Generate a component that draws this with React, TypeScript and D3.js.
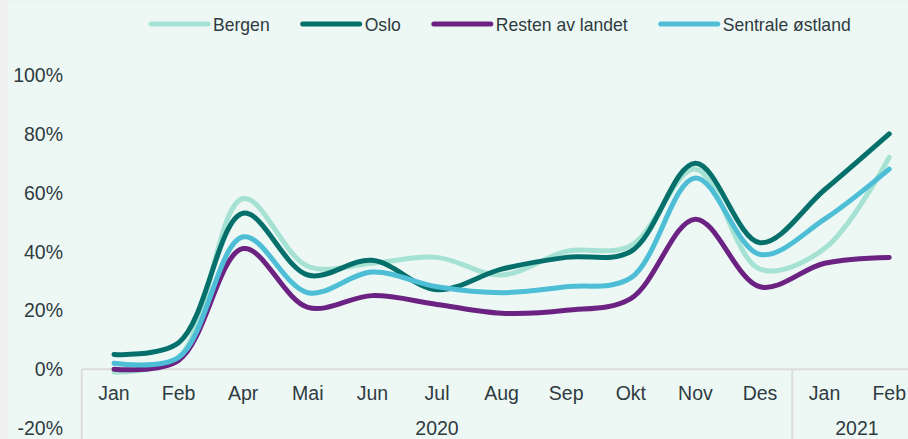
import * as d3 from 'd3';
import { useRef, useEffect } from 'react';

const months = ['Jan', 'Feb', 'Apr', 'Mai', 'Jun', 'Jul', 'Aug', 'Sep', 'Okt', 'Nov', 'Des', 'Jan', 'Feb'];
const years = [
    { label: '2020', from: 0, to: 11 },
    { label: '2021', from: 11, to: 13 },
];
const yTicks = [-20, 0, 20, 40, 60, 80, 100];

const bergen = [-1, 4, 58, 35, 36, 38, 32, 40, 42, 68, 34, 41, 72];
const oslo = [5, 9, 53, 32, 37, 27, 34, 38, 40, 70, 43, 61, 80];
const resten = [0, 3, 41, 21, 25, 22, 19, 20, 24, 51, 28, 36, 38];
const sentrale = [2, 4, 45, 26, 33, 28, 26, 28, 31, 65, 39, 51, 68];

const seriesNames = ['Bergen', 'Oslo', 'Resten av landet', 'Sentrale østland'];
const seriesColors = ['#a6e2d3', '#05706b', '#6c2283', '#4dbed5'];

const W = 908;
const H = 439;

const App = () => {
    const svgRef = useRef<SVGSVGElement | null>(null);

    useEffect(() => {
        const allSeries = [bergen, oslo, resten, sentrale];
        const svg = d3.select(svgRef.current);
        svg.selectAll('*').remove();

        // background + grey frame strip
        svg.append('rect').attr('width', W).attr('height', H).attr('fill', '#f0f0f0');
        svg.append('rect').attr('x', 8).attr('y', 1).attr('width', W - 8).attr('height', H - 1).attr('fill', '#edf8f5');

        const left = 81.7;
        const band = 64.6;
        const x = d3.scaleBand<number>()
            .domain(months.map((_, i) => i))
            .range([left, left + band * months.length]);

        const y = d3.scaleLinear().domain([-20, 100]).range([428, 75]);

        const axisFont = '"Liberation Sans", Arial, sans-serif';
        const textColor = '#2f3b40';

        // y labels
        svg.append('g')
            .selectAll('text')
            .data(yTicks)
            .enter()
            .append('text')
            .attr('x', 63)
            .attr('y', d => y(d) + 7)
            .attr('text-anchor', 'end')
            .attr('font-family', axisFont)
            .attr('font-size', 19.5)
            .attr('fill', textColor)
            .text(d => `${d}%`);

        // x axis line and group separators
        const axisColor = '#dcdcdc';
        svg.append('line')
            .attr('x1', left).attr('x2', W)
            .attr('y1', y(0)).attr('y2', y(0))
            .attr('stroke', axisColor).attr('stroke-width', 2);

        svg.append('g')
            .selectAll('line')
            .data([0, 11, 13])
            .enter()
            .append('line')
            .attr('x1', d => left + band * d)
            .attr('x2', d => left + band * d)
            .attr('y1', y(0))
            .attr('y2', H)
            .attr('stroke', axisColor)
            .attr('stroke-width', 2);

        svg.append('g')
            .selectAll('text')
            .data(months)
            .enter()
            .append('text')
            .attr('x', (_, i) => x(i)! + x.bandwidth() / 2)
            .attr('y', 400)
            .attr('text-anchor', 'middle')
            .attr('font-family', axisFont)
            .attr('font-size', 19.5)
            .attr('fill', textColor)
            .text(d => d);

        svg.append('g')
            .selectAll('text')
            .data(years)
            .enter()
            .append('text')
            .attr('x', d => left + band * (d.from + d.to) / 2)
            .attr('y', 435)
            .attr('text-anchor', 'middle')
            .attr('font-family', axisFont)
            .attr('font-size', 19.5)
            .attr('fill', textColor)
            .text(d => d.label);

        // lines
        const line = d3.line<number>()
            .x((_, i) => x(i)! + x.bandwidth() / 2)
            .y(d => y(d))
            .curve(d3.curveCatmullRom.alpha(0.5));

        svg.append('g')
            .selectAll('path')
            .data(allSeries)
            .enter()
            .append('path')
            .attr('d', d => line(d))
            .attr('fill', 'none')
            .attr('stroke', (_, i) => seriesColors[i])
            .attr('stroke-width', 5)
            .attr('stroke-linecap', 'round');

        // legend (text squeezed a bit, the original uses a narrow face)
        const legend = svg.append('g');
        let lx = 149;
        seriesNames.forEach((name, i) => {
            legend.append('line')
                .attr('x1', lx + 2).attr('x2', lx + 59)
                .attr('y1', 24).attr('y2', 24)
                .attr('stroke', seriesColors[i])
                .attr('stroke-width', 5)
                .attr('stroke-linecap', 'round');
            const t = legend.append('text')
                .attr('x', lx + 64)
                .attr('y', 31)
                .attr('font-family', axisFont)
                .attr('font-size', 19)
                .attr('fill', textColor)
                .text(name);
            const w = (t.node() as SVGTextElement).getComputedTextLength() * 0.925;
            t.attr('textLength', w).attr('lengthAdjust', 'spacingAndGlyphs');
            lx = lx + 64 + w + 31;
        });
    }, []);

    return (
        <svg ref={svgRef} width={W} height={H}
            style={{ position: 'absolute', left: 0, top: 0, overflow: 'hidden', display: 'block' }} />
    );
};

export default App;
